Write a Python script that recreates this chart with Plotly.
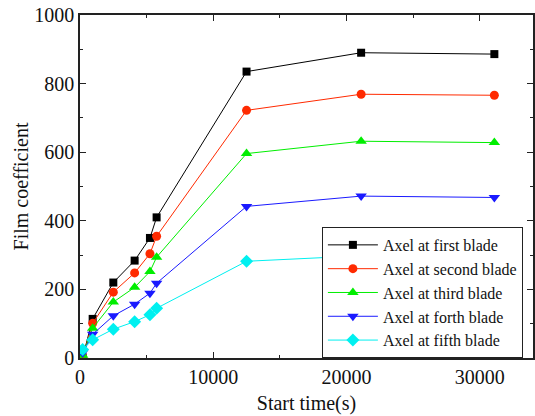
import plotly.graph_objects as go

start_time = [200, 950, 2500, 4100, 5250, 5750, 12500, 21100, 31100]

first_blade = [2, 114, 220, 284, 350, 410, 835, 890, 886]
second_blade = [3, 101, 192, 248, 304, 355, 722, 769, 766]
third_blade = [8, 87, 163, 206, 252, 294, 596, 632, 628]
forth_blade = [15, 69, 123, 157, 189, 218, 442, 472, 468]
fifth_blade = [25, 53, 84, 106, 126, 145, 282, 298, 296]

series_names = ["Axel at first blade", "Axel at second blade", "Axel at third blade",
                "Axel at forth blade", "Axel at fifth blade"]
series_values = [first_blade, second_blade, third_blade, forth_blade, fifth_blade]
colors = ["#000000", "#ff2a00", "#00ee00", "#1a1aff", "#00f0f0"]
symbols = ["square", "circle", "triangle-up", "triangle-down", "diamond"]
sizes = [8, 9, 10, 10, 10]

fig = go.Figure()
for name, vals, c, s, sz in zip(series_names, series_values, colors, symbols, sizes):
    fig.add_trace(go.Scatter(
        x=start_time, y=vals, name=name, mode="lines+markers",
        line=dict(color=c, width=1),
        marker=dict(symbol=s, size=sz, color=c, line=dict(width=0)),
    ))

font = "'Liberation Serif', 'DejaVu Serif', serif"
axis_common = dict(
    showline=True, linecolor="#222", linewidth=1.5, mirror="allticks",
    ticks="inside", ticklen=6, tickwidth=1.2, tickcolor="#222",
    showgrid=False, zeroline=False, ticklabeloverflow="allow",
    tickfont=dict(family=font, size=20, color="#111"),
)
fig.update_layout(
    width=535, height=416,
    margin=dict(l=80, r=0, t=15, b=58),
    paper_bgcolor="white", plot_bgcolor="white",
    font=dict(family=font, color="#111"),
    xaxis=dict(range=[0, 34000], dtick=10000, tick0=0, tickformat="d",
               minor=dict(dtick=5000, ticks="inside", ticklen=3, tickcolor="#222"),
               title=dict(text="Start time(s)", font=dict(family=font, size=20), standoff=9),
               **axis_common),
    yaxis=dict(range=[0, 1000], dtick=200, tick0=0, tickformat="d",
               minor=dict(dtick=100, ticks="inside", ticklen=3, tickcolor="#222"),
               title=dict(text="Film coefficient", font=dict(family=font, size=20), standoff=0),
               **axis_common),
    legend=dict(x=0.534, y=0.382, xanchor="left", yanchor="top",
                bgcolor="white", bordercolor="#222", borderwidth=1,
                font=dict(family=font, size=16, color="#111"),
                itemwidth=50, tracegroupgap=0),
    showlegend=True,
)
fig.write_html("out.html", config={"displayModeBar": False},
               post_script="document.body.style.margin='0';document.body.style.overflow='hidden';")
